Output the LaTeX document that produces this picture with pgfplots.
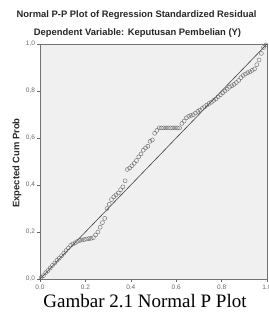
\documentclass[border=0pt]{standalone}
\usepackage{fontspec}
\setmainfont{Liberation Sans}
\newfontfamily\capfont{Liberation Serif}
\usepackage{pgfplots}
\pgfplotsset{compat=1.18}
\begin{document}
\begin{tikzpicture}[x=1pt,y=1pt]
\useasboundingbox (-40,-33) rectangle (228,279);
\begin{axis}[at={(0,0)}, anchor=south west, scale only axis,
  width=227pt, height=235pt,
  xmin=0, xmax=1, ymin=0, ymax=1,
  axis background/.style={fill=black!6},
  axis line style={black!55, line width=0.9pt},
  xtick={0,0.2,0.4,0.6,0.8,1}, ytick={0,0.2,0.4,0.6,0.8,1},
  tick align=outside, tick pos=left, major tick length=3pt,
  tick style={black!60, line width=0.5pt},
  ticklabel style={font=\fontsize{6.5}{7}\selectfont, text=black!60},
  xticklabel style={yshift=1pt},
  yticklabel style={xshift=1.5pt},
  /pgf/number format/.cd, use comma, fixed, fixed zerofill, precision=1, assume math mode=true,
  /pgfplots/.cd,
]
\addplot[black!75, line width=0.6pt] coordinates {(0,0) (1,1)};
\addplot[only marks, mark=o, mark size=2pt, mark options={black!60, line width=0.4pt}] table {
x y
0.005 0.006
0.015 0.014
0.025 0.027
0.035 0.036
0.045 0.047
0.055 0.058
0.065 0.068
0.075 0.080
0.085 0.089
0.095 0.099
0.105 0.110
0.115 0.121
0.125 0.132
0.135 0.143
0.145 0.149
0.155 0.154
0.165 0.160
0.175 0.164
0.185 0.166
0.195 0.168
0.205 0.170
0.215 0.172
0.225 0.173
0.235 0.176
0.245 0.188
0.255 0.200
0.265 0.220
0.275 0.240
0.285 0.258
0.295 0.300
0.305 0.318
0.315 0.338
0.325 0.350
0.335 0.358
0.345 0.366
0.355 0.380
0.365 0.392
0.375 0.418
0.385 0.466
0.395 0.472
0.405 0.482
0.415 0.492
0.425 0.504
0.435 0.520
0.445 0.532
0.455 0.548
0.465 0.558
0.475 0.565
0.485 0.586
0.495 0.592
0.505 0.620
0.515 0.632
0.525 0.643
0.535 0.643
0.545 0.643
0.555 0.643
0.565 0.643
0.575 0.643
0.585 0.643
0.595 0.643
0.605 0.643
0.615 0.643
0.625 0.662
0.635 0.672
0.645 0.686
0.655 0.692
0.665 0.696
0.675 0.699
0.685 0.706
0.695 0.713
0.705 0.719
0.715 0.726
0.725 0.733
0.735 0.740
0.745 0.747
0.755 0.752
0.765 0.760
0.775 0.766
0.785 0.776
0.795 0.784
0.805 0.792
0.815 0.800
0.825 0.808
0.835 0.816
0.845 0.822
0.855 0.828
0.865 0.836
0.875 0.845
0.885 0.857
0.895 0.866
0.905 0.872
0.915 0.878
0.925 0.882
0.935 0.888
0.945 0.894
0.955 0.912
0.965 0.932
0.975 0.960
0.985 0.985
0.995 0.996
};
\end{axis}
\node[font=\bfseries\fontsize{9.4}{11}\selectfont, text=black!85] at (96.5,264) {Normal P-P Plot of Regression Standardized Residual};
\node[font=\bfseries\fontsize{9.4}{11}\selectfont, text=black!85] at (97.5,246) {Dependent Variable: Keputusan Pembelian (Y)};
\node[font=\bfseries\fontsize{9.4}{11}\selectfont, text=black!85, rotate=90] at (-23,116) {Expected Cum Prob};
\fill[white] (-40,-33) rectangle (228,-10);
\node[font=\capfont\fontsize{19}{22}\selectfont, anchor=base] at (105,-28) {Gambar 2.1 Normal P Plot};
\end{tikzpicture}
\end{document}
